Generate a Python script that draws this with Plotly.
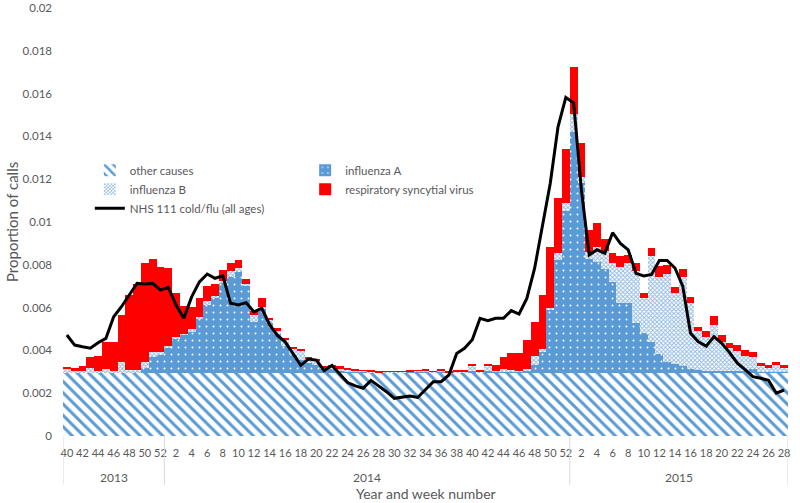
import plotly.graph_objects as go

# ---------------- data ----------------
year_labels = ["2013", "2014", "2015"]
year_weeks = [list(range(40, 53)), list(range(1, 53)), list(range(1, 29))]
categories = [f"{y}-{w:02d}" for y, ws in zip(year_labels, year_weeks) for w in ws]
week_labels = [str(w) for ws in year_weeks for w in ws]

other_causes = [
    0.00296, 0.00296, 0.00296, 0.00296, 0.00296, 0.00296, 0.00296, 0.00296, 0.00296, 0.00296,
    0.00296, 0.00296, 0.00296, 0.00296, 0.00296, 0.00296, 0.00296, 0.00296, 0.00296, 0.00296,
    0.00296, 0.00296, 0.00296, 0.00296, 0.00296, 0.00296, 0.00296, 0.00296, 0.00296, 0.00296,
    0.00296, 0.00296, 0.00296, 0.00296, 0.00296, 0.00296, 0.00296, 0.00296, 0.00296, 0.00296,
    0.00296, 0.00296, 0.00296, 0.00296, 0.00296, 0.00296, 0.00296, 0.00296, 0.00296, 0.00296,
    0.00296, 0.00296, 0.00296, 0.00296, 0.00296, 0.00296, 0.00296, 0.00296, 0.00296, 0.00296,
    0.00296, 0.00296, 0.00296, 0.00296, 0.00296, 0.00296, 0.00296, 0.00296, 0.00296, 0.00296,
    0.00296, 0.00296, 0.00296, 0.00296, 0.00296, 0.00296, 0.00296, 0.00296, 0.00296, 0.00296,
    0.00296, 0.00296, 0.00296, 0.00296, 0.00296, 0.00296, 0.00296, 0.00296, 0.00296, 0.00296,
    0.00296, 0.00296, 0.00296,
]

influenza_a = [
    0, 0, 0, 0, 0, 0, 0, 0, 0, 0,
    0.00024, 0.00072, 0.00082, 0.00114, 0.00156, 0.00176, 0.00192, 0.00254, 0.00316, 0.00349,
    0.00422, 0.00449, 0.00472, 0.00404, 0.00239, 0.00301, 0.00232, 0.00179, 0.00124, 0.00082,
    0.00060, 0.00046, 0.00036, 0.00016, 0.00016, 0.00009, 0.00006, 0.00004, 0.00004, 0.00002,
    0, 0.00001, 0.00002, 0.00002, 0.00004, 0.00004, 0.00006, 0.00001, 0.00004, 0,
    0.00001, 0.00002, 0.00009, 0.00002, 0.00006, 0.00004, 0.00004, 0.00004, 0.00004, 0.00010,
    0.00034, 0.00096, 0.00293, 0.00526, 0.00754, 0.01126, 0.00884, 0.00529, 0.00516, 0.00486,
    0.00424, 0.00324, 0.00324, 0.00234, 0.00184, 0.00144, 0.00086, 0.00049, 0.00039, 0.00029,
    0.00016, 0.00012, 0.00009, 0.00009, 0.00007, 0.00006, 0.00006, 0.00009, 0.00016, 0.00004,
    0.00002, 0.00002, 0.00002,
]

influenza_b = [
    0.00015, 0.00009, 0.00006, 0.00022, 0.00009, 0.00016, 0.00006, 0.00050, 0.00014, 0.00014,
    0.00027, 0.00024, 0.00014, 0.00010, 0.00010, 0.00006, 0.00014, 0.00008, 0.00018, 0.00007,
    0.00007, 0.00025, 0.00017, 0.00010, 0.00031, 0.00008, 0.00012, 0.00015, 0.00030, 0.00027,
    0.00042, 0.00018, 0.00020, 0.00010, 0.00010, 0.00011, 0.00009, 0.00005, 0.00004, 0.00004,
    0.00002, 0.00003, 0.00003, 0.00002, 0.00003, 0.00004, 0.00004, 0.00003, 0.00004, 0.00003,
    0.00003, 0.00004, 0.00021, 0.00004, 0.00023, 0.00006, 0.00015, 0.00008, 0.00006, 0.00006,
    0.00045, 0.00013, 0.00011, 0.00032, 0.00037, 0.00083, 0.00032, 0.00037, 0.00073, 0.00083,
    0.00088, 0.00170, 0.00190, 0.00242, 0.00163, 0.00400, 0.00363, 0.00412, 0.00335, 0.00420,
    0.00308, 0.00182, 0.00159, 0.00215, 0.00137, 0.00108, 0.00094, 0.00069, 0.00058, 0.00026,
    0.00022, 0.00032, 0.00022,
]

rsv = [
    0.00013, 0.00015, 0.00025, 0.00052, 0.00067, 0.00126, 0.00138, 0.00218, 0.00350, 0.00400,
    0.00460, 0.00435, 0.00398, 0.00363, 0.00205, 0.00129, 0.00101, 0.00086, 0.00073, 0.00060,
    0.00050, 0.00038, 0.00037, 0.00026, 0.00019, 0.00042, 0.00010, 0.00015, 0.00005, 0.00010,
    0.00007, 0.00006, 0.00010, 0.00006, 0.00012, 0.00009, 0.00007, 0.00005, 0.00004, 0.00003,
    0.00002, 0.00002, 0.00002, 0.00003, 0.00004, 0.00004, 0.00006, 0.00002, 0.00005, 0.00003,
    0.00005, 0.00008, 0.00010, 0.00008, 0.00011, 0.00024, 0.00055, 0.00078, 0.00084, 0.00137,
    0.00159, 0.00254, 0.00282, 0.00256, 0.00253, 0.00221, 0.00156, 0.00101, 0.00109, 0.00056,
    0.00049, 0.00050, 0.00036, 0.00038, 0.00024, 0.00037, 0.00049, 0.00043, 0.00025, 0.00035,
    0.00030, 0.00020, 0.00026, 0.00040, 0.00030, 0.00023, 0.00030, 0.00026, 0.00023, 0.00017,
    0.00010, 0.00015, 0.00010,
]

nhs111 = [
    0.00472, 0.00425, 0.00417, 0.00410, 0.00436, 0.00456, 0.00557, 0.00604, 0.00659, 0.00713,
    0.00710, 0.00713, 0.00682, 0.00695, 0.00612, 0.00550, 0.00650, 0.00720, 0.00757, 0.00737,
    0.00748, 0.00620, 0.00612, 0.00623, 0.00580, 0.00597, 0.00520, 0.00470, 0.00440, 0.00386,
    0.00330, 0.00360, 0.00355, 0.00305, 0.00330, 0.00290, 0.00250, 0.00234, 0.00223, 0.00260,
    0.00234, 0.00207, 0.00176, 0.00180, 0.00187, 0.00180, 0.00215, 0.00254, 0.00254, 0.00285,
    0.00386, 0.00410, 0.00450, 0.00550, 0.00539, 0.00550, 0.00550, 0.00586, 0.00570, 0.00643,
    0.00784, 0.00978, 0.01180, 0.01445, 0.01582, 0.01557, 0.01150, 0.00846, 0.00870, 0.00854,
    0.00950, 0.00900, 0.00870, 0.00760, 0.00748, 0.00755, 0.00820, 0.00820, 0.00785, 0.00700,
    0.00480, 0.00440, 0.00420, 0.00464, 0.00433, 0.00390, 0.00340, 0.00310, 0.00277, 0.00270,
    0.00260, 0.00200, 0.00215,
]

# ---------------- figure ----------------
BLUE = "#5B9BD5"
GREY = "#595959"
FONT = "Lato, 'Open Sans', sans-serif"

fig = go.Figure()

fig.add_trace(go.Bar(
    x=categories, y=other_causes, name="other causes", legend="legend",
    marker=dict(color="white", line=dict(width=0),
                pattern=dict(shape="\\", fgcolor=BLUE, bgcolor="white",
                             size=8, solidity=0.38, fillmode="replace")),
))
fig.add_trace(go.Bar(
    x=categories, y=influenza_a, name="influenza A", legend="legend2",
    marker=dict(color=BLUE, line=dict(width=0),
                pattern=dict(shape=".", fgcolor="white", bgcolor=BLUE,
                             size=7, solidity=0.06, fillmode="replace")),
))
fig.add_trace(go.Bar(
    x=categories, y=influenza_b, name="influenza B", legend="legend",
    marker=dict(color="white", line=dict(width=0),
                pattern=dict(shape="x", fgcolor="#8DB7E2", bgcolor="white",
                             size=3, solidity=0.5, fillmode="replace")),
))
fig.add_trace(go.Bar(
    x=categories, y=rsv, name="respiratory syncytial virus", legend="legend2",
    marker=dict(color="#FF0000", line=dict(width=0)),
))
fig.add_trace(go.Scatter(
    x=categories, y=nhs111, name="NHS 111 cold/flu (all ages)", legend="legend",
    mode="lines", line=dict(color="black", width=3),
))

# year separators and labels (multi-level category axis)
n_cats = len(categories)
start = 0
bounds = [-0.5]
for yl, ws in zip(year_labels, year_weeks):
    end = start + len(ws)
    bounds.append(end - 0.5)
    fig.add_annotation(x=(start + end - 1) / 2, y=-0.096, xref="x", yref="paper",
                       text=yl, showarrow=False, yanchor="middle",
                       font=dict(size=12, color=GREY, family=FONT))
    start = end
for b in bounds:
    fig.add_shape(type="line", x0=b, x1=b, y0=0, y1=-0.114, xref="x", yref="paper",
                  line=dict(color="#D9D9D9", width=1))

fig.add_annotation(x=0.5, y=-0.135, xref="paper", yref="paper", text="Year and week number",
                   showarrow=False, yanchor="middle",
                   font=dict(size=14, color=GREY, family=FONT))
fig.add_annotation(x=-0.0703, y=0.5, xref="paper", yref="paper", text="Proportion of calls",
                   showarrow=False, textangle=-90, xanchor="center", yanchor="middle",
                   font=dict(size=15, color=GREY, family=FONT))

fig.update_layout(
    width=800, height=503,
    margin=dict(l=63, r=12, t=8, b=67),
    barmode="stack", bargap=0,
    plot_bgcolor="white", paper_bgcolor="white",
    font=dict(family=FONT, color=GREY, size=11.5),
    xaxis=dict(type="category", categoryorder="array", categoryarray=categories,
               tickmode="array", tickvals=categories[::2], ticktext=week_labels[::2],
               tickangle=0, showgrid=False, ticks="", showline=False, automargin=False,
               range=[-0.5, n_cats - 0.5], ticklabelstandoff=9,
               tickfont=dict(size=11, color=GREY)),
    yaxis=dict(range=[0, 0.02], dtick=0.002, showgrid=False, zeroline=False,
               showline=False, ticks="", ticklabelstandoff=10, automargin=False,
               tickfont=dict(size=11.5, color=GREY)),
    legend=dict(x=0.037, y=0.655, xanchor="left", yanchor="top", traceorder="normal",
                bgcolor="rgba(0,0,0,0)", tracegroupgap=0,
                font=dict(size=11.5, color=GREY, family=FONT)),
    legend2=dict(x=0.334, y=0.655, xanchor="left", yanchor="top", traceorder="normal",
                 bgcolor="rgba(0,0,0,0)", tracegroupgap=0,
                 font=dict(size=11.5, color=GREY, family=FONT)),
    showlegend=True,
)

fig.write_html("out.html",
               config={"displayModeBar": False},
               post_script="document.body.style.margin='0';document.body.style.overflow='hidden';")
